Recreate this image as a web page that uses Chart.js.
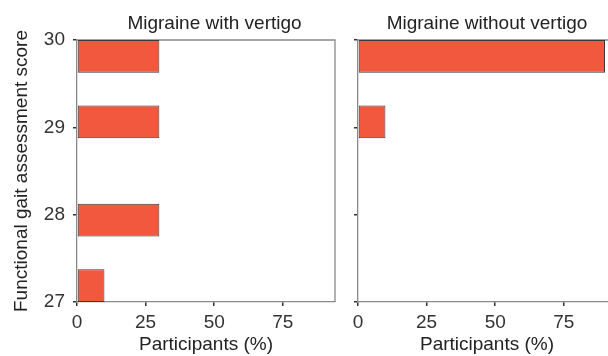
<!DOCTYPE html>
<html>
<head>
<meta charset="utf-8">
<script src="https://cdn.jsdelivr.net/npm/chart.js@4.4.0/dist/chart.umd.min.js"></script>
<style>
  html, body { margin: 0; padding: 0; background: #fff; }
  #wrap { position: relative; width: 608px; height: 356px; overflow: hidden; }
  #wrap canvas { position: absolute; top: 0; }
  #leftCanvas { left: 0; }
  #rightCanvas { left: 345px; }
</style>
</head>
<body>
<div id="wrap">
  <canvas id="leftCanvas" width="345" height="356"></canvas>
  <canvas id="rightCanvas" width="280" height="356"></canvas>
</div>
<script>
// --- DATA ---
const scoreTicks = [27, 28, 29, 30];
const binStarts = [27, 27.75, 28.875, 29.625];   // lower edge of each histogram bin
const binWidth = 0.375;
const withVertigo = [10, 30, 30, 30];            // participants (%) per bin
const withoutVertigo = [0, 0, 10, 90];
const percentTicks = [0, 25, 50, 75];
const panelTitles = ['Migraine with vertigo', 'Migraine without vertigo'];
const yTitle = 'Functional gait assessment score';
const xTitle = 'Participants (%)';

const FONT = 'Liberation Sans, Arial, Helvetica, sans-serif';
const BAR_FILL = '#F2583E';
const FRAME = '#8a8a8a';
const TICK = '#333333';

// top + right edge of the panel box, and the strip title
const panelFrame = {
  id: 'panelFrame',
  beforeDatasetsDraw(chart, args, opts) {
    const { ctx, chartArea: a } = chart;
    ctx.save();
    ctx.strokeStyle = FRAME;
    ctx.lineWidth = 1.3;
    ctx.beginPath();
    ctx.moveTo(a.left, a.top);
    ctx.lineTo(a.right, a.top);
    ctx.lineTo(a.right, a.bottom);
    ctx.stroke();
    ctx.restore();
  },
  afterDraw(chart, args, opts) {
    const { ctx, chartArea: a } = chart;
    ctx.save();
    ctx.font = '19px ' + FONT;
    ctx.fillStyle = '#222';
    ctx.textAlign = 'center';
    ctx.textBaseline = 'alphabetic';
    ctx.fillText(opts.text, (a.left + a.right) / 2 + opts.dx, opts.baseline);
    ctx.restore();
  }
};

function makePanel(canvasId, values, title, opts) {
  const points = binStarts.map((b, i) => ({ x: values[i], y: b + binWidth / 2 }));
  return new Chart(document.getElementById(canvasId), {
    type: 'bar',
    data: {
      datasets: [{
        data: points,
        backgroundColor: BAR_FILL,
        borderColor: '#3a3a3a',
        borderWidth: 1,
        borderSkipped: false,
        categoryPercentage: 0.5,
        barPercentage: 1.0
      }]
    },
    options: {
      indexAxis: 'y',
      responsive: false,
      animation: false,
      layout: { padding: { top: 40, right: opts.padRight, left: 0, bottom: 0 } },
      plugins: {
        legend: { display: false },
        tooltip: { enabled: false },
        panelFrame: { text: title, dx: opts.titleDx, baseline: 29 }
      },
      scales: {
        x: {
          type: 'linear',
          min: 0,
          max: 94,
          afterBuildTicks: s => { s.ticks = percentTicks.map(v => ({ value: v })); },
          afterFit: s => { s.height = 54; },
          ticks: { color: TICK, font: { family: FONT, size: 19 }, padding: 5 },
          grid: { drawOnChartArea: false, drawTicks: true, tickLength: 4, color: TICK, lineWidth: 1.5 },
          border: { color: FRAME, width: 1.3 },
          title: { display: true, text: xTitle, color: '#222', font: { family: FONT, size: 19 }, padding: { top: 0, bottom: 0 } }
        },
        y: {
          type: 'linear',
          min: 27,
          max: 30,
          offset: false,
          afterBuildTicks: s => { s.ticks = scoreTicks.map(v => ({ value: v })); },
          afterFit: s => { s.width = opts.yWidth; },
          ticks: { display: opts.showY, color: TICK, font: { family: FONT, size: 19 }, padding: 8 },
          grid: { offset: false, drawOnChartArea: false, drawTicks: true, tickLength: 4, color: TICK, lineWidth: 1.5 },
          border: { color: FRAME, width: 1.3 },
          title: { display: opts.showY, text: yTitle, color: '#222', font: { family: FONT, size: 19 }, padding: { top: 10, bottom: 0 } }
        }
      }
    },
    plugins: [panelFrame]
  });
}

document.addEventListener('DOMContentLoaded', () => {
  makePanel('leftCanvas', withVertigo, panelTitles[0], { padRight: 10, yWidth: 77, showY: true, titleDx: 8.5 });
  makePanel('rightCanvas', withoutVertigo, panelTitles[1], { padRight: 9, yWidth: 13, showY: false, titleDx: 0 });
});
</script>
</body>
</html>
